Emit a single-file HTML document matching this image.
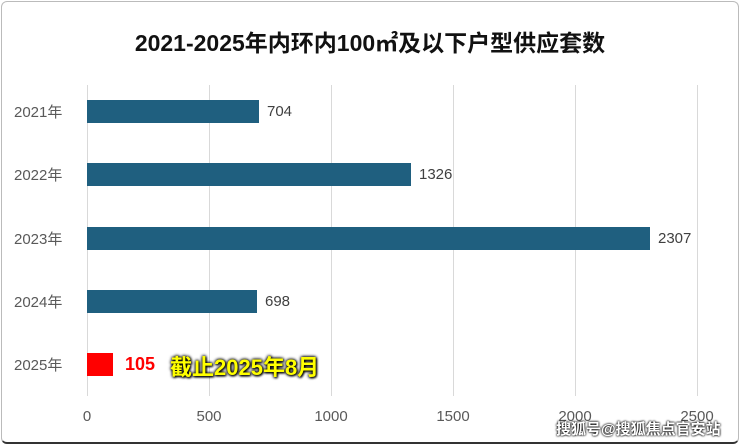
<!DOCTYPE html>
<html><head><meta charset="utf-8"><style>
body{margin:0;width:740px;height:444px;background:#fff;overflow:hidden;font-family:"Liberation Sans","Noto Sans CJK SC",sans-serif}
.frame{position:absolute;left:1px;top:1px;width:736px;height:440px;border:1px solid #bbb;border-radius:6px;border-bottom:2px solid #333}
.t{position:absolute;white-space:nowrap}
.g{position:absolute;top:85px;width:1px;height:311px;background:#d9d9d9}
.bar{position:absolute;left:87px;height:23px;background:#1f5f7f}
.yl{position:absolute;left:14px;font-size:15px;color:#595959}
.vl{position:absolute;font-size:15px;color:#404040}
.xl{position:absolute;top:408px;font-size:15px;color:#595959;transform:translateX(-50%)}
</style></head><body>
<div class="frame"></div>
<div class="t" style="left:0;width:740px;text-align:center;top:24px;font-size:23px;font-weight:bold;color:#111">2021-2025年内环内100㎡及以下户型供应套数</div>
<div class="g" style="left:87px"></div><div class="g" style="left:209px"></div><div class="g" style="left:331px"></div><div class="g" style="left:453px"></div><div class="g" style="left:575px"></div><div class="g" style="left:697px"></div>
<div class="bar" style="top:100px;width:172px"></div>
<div class="bar" style="top:163px;width:324px"></div>
<div class="bar" style="top:227px;width:563px"></div>
<div class="bar" style="top:290px;width:170px"></div>
<div class="bar" style="top:353px;width:26px;background:#f00"></div>
<div class="yl" style="top:101px">2021年</div>
<div class="yl" style="top:164px">2022年</div>
<div class="yl" style="top:228px">2023年</div>
<div class="yl" style="top:291px">2024年</div>
<div class="yl" style="top:354px">2025年</div>
<div class="vl" style="left:267px;top:103px">704</div>
<div class="vl" style="left:419px;top:166px">1326</div>
<div class="vl" style="left:658px;top:230px">2307</div>
<div class="vl" style="left:265px;top:293px">698</div>
<div class="vl" style="left:125px;top:354px;color:#f00;font-weight:bold;font-size:18px">105</div>
<div class="t" style="left:170px;top:350px;font-size:22px;font-weight:bold;color:#ff0;text-shadow:0 0 3px #000,0 0 3px #000,1px 1px 2px #000">截止2025年8月</div>
<div class="xl" style="left:87px">0</div><div class="xl" style="left:209px">500</div><div class="xl" style="left:331px">1000</div><div class="xl" style="left:453px">1500</div><div class="xl" style="left:575px">2000</div><div class="xl" style="left:697px">2500</div>
<div class="t" style="left:556px;top:418px;font-size:15px;font-weight:bold;color:#fff;text-shadow:0 0 2px #000,0 0 2px #000">搜狐号@搜狐焦点官安站</div>
</body></html>
